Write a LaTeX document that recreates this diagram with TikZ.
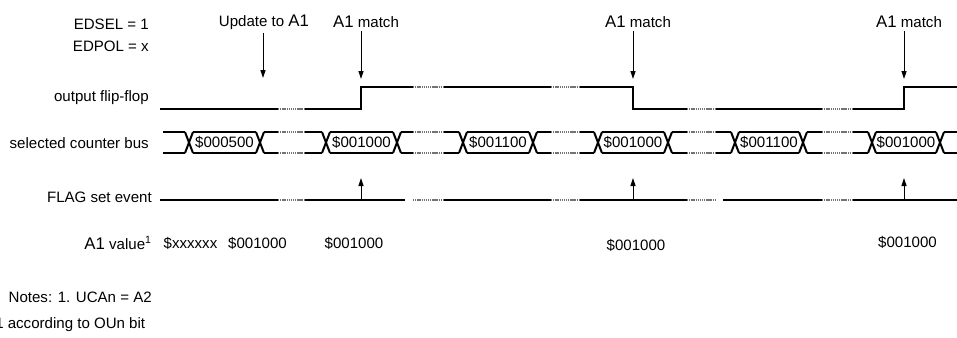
\documentclass[tikz,border=0pt]{standalone}
\usepackage{fontspec}
\setmainfont{Liberation Sans}
\usetikzlibrary{arrows.meta,positioning}
\newcommand{\aone}{{\fontsize{12.6}{14}\selectfont A1}}

\begin{document}
\begin{tikzpicture}[x=0.75pt,y=-0.75pt,
  font=\fontsize{11.3}{13}\selectfont,
  lbl/.style={anchor=east,inner sep=0pt},
  evtext/.style={inner sep=2.5pt},
  wave/.style={line width=1.5pt,line join=miter},
  gapline/.style={line width=1.1pt,black!55,dash pattern=on 1pt off 0.6pt},
  gapwhite/.style={line width=3.5pt,white},
  evarrow/.style={line width=0.75pt,-{Triangle[length=6pt,width=3.8pt]}}]
  \useasboundingbox (0,0) rectangle (957,337);

  % row labels
  \node[lbl] (edsel) at (149,24) {EDSEL = 1};
  \node[lbl] (edpol) at (149,46) {EDPOL = x};
  \node[lbl] (ffl) at (149,98) {output flip-flop};
  \node[lbl] (busl) at (149,143) {selected counter bus};
  \node[lbl] (flagl) at (152,197) {FLAG set event};
  \node[lbl] (vall) at (152,243) {\aone\ value\textsuperscript{1}};
  \node[lbl] (note1) at (152,297) {Notes: 1. UCAn = A2};
  \node[anchor=west,inner sep=0pt] (note2) at (-5,325) {1 according to OUn bit};

  % events on top
  \node[evtext] (upd) at (264,22) {Update to \aone};
  \node[evtext] (m1) at (366,22) {\aone\ match};
  \node[evtext] (m2) at (638,22) {\aone\ match};
  \node[evtext] (m3) at (909,22) {\aone\ match};
  \coordinate (updtip) at (263,78);
  \coordinate (m1tip) at (361,79);
  \coordinate (m2tip) at (633,79);
  \coordinate (m3tip) at (904,79);
  \draw[evarrow] (upd.south -| updtip) -- (updtip);
  \draw[evarrow] (m1.south -| m1tip) -- (m1tip);
  \draw[evarrow] (m2.south -| m2tip) -- (m2tip);
  \draw[evarrow] (m3.south -| m3tip) -- (m3tip);

  % output flip-flop
  \draw[wave] (160,109) -- (361,109) -- (361,87) -- (633,87) -- (633,109)
    -- (904,109) -- (904,87) -- (957,87);
  \foreach \a/\b/\lev in {278/305/109,413/443/87,551/580/87,687/716/109,822/852/109}
    {\draw[gapwhite] (\a,\lev) -- (\b,\lev);
     \draw[gapline] (\a,\lev) -- (\b,\lev);}

  % selected counter bus
  \foreach \a/\b in {159/189,189/260,260/326,326/397,397/463,463/533,533/598,
                     598/668,668/735,735/803,803/872,872/940,940/961}
    {\draw[wave] (\a+4,132) -- (\b-4,132);
     \draw[wave] (\a+4,153) -- (\b-4,153);}
  \foreach \x in {189,260,326,397,463,533,598,668,735,803,872,940}
    {\draw[wave] (\x-4,132) -- (\x+4,153);
     \draw[wave] (\x-4,153) -- (\x+4,132);}
  \node (v1) at (224.5,142.5) {\$000500};
  \node (v2) at (361.5,142.5) {\$001000};
  \node (v3) at (498,142.5) {\$001100};
  \node (v4) at (633,142.5) {\$001000};
  \node (v5) at (769,142.5) {\$001100};
  \node (v6) at (906,142.5) {\$001000};

  % FLAG set event
  \draw[wave] (160,200) -- (957,200);
  \foreach \a/\b in {405/413,716/723}
    \draw[gapwhite] (\a,200) -- (\b,200);
  \foreach \a/\b in {278/305,413/443,551/580,687/716,822/852}
    \foreach \lev in {132,153,200}
      {\draw[gapwhite] (\a,\lev) -- (\b,\lev);
       \draw[gapline] (\a,\lev) -- (\b,\lev);}
  \coordinate (f1) at (361,200);
  \coordinate (f2) at (633,200);
  \coordinate (f3) at (904,200);
  \coordinate (f1tip) at (361,178);
  \coordinate (f2tip) at (633,178);
  \coordinate (f3tip) at (904,178);
  \draw[evarrow] (f1) -- (f1tip);
  \draw[evarrow] (f2) -- (f2tip);
  \draw[evarrow] (f3) -- (f3tip);

  % A1 values
  \node (a0) at (190.5,243) {\$xxxxxx};
  \node (a1) at (257.5,243) {\$001000};
  \node (a2) at (354,243) {\$001000};
  \node (a3) at (636,245) {\$001000};
  \node (a4) at (907.5,242) {\$001000};
\end{tikzpicture}
\end{document}
